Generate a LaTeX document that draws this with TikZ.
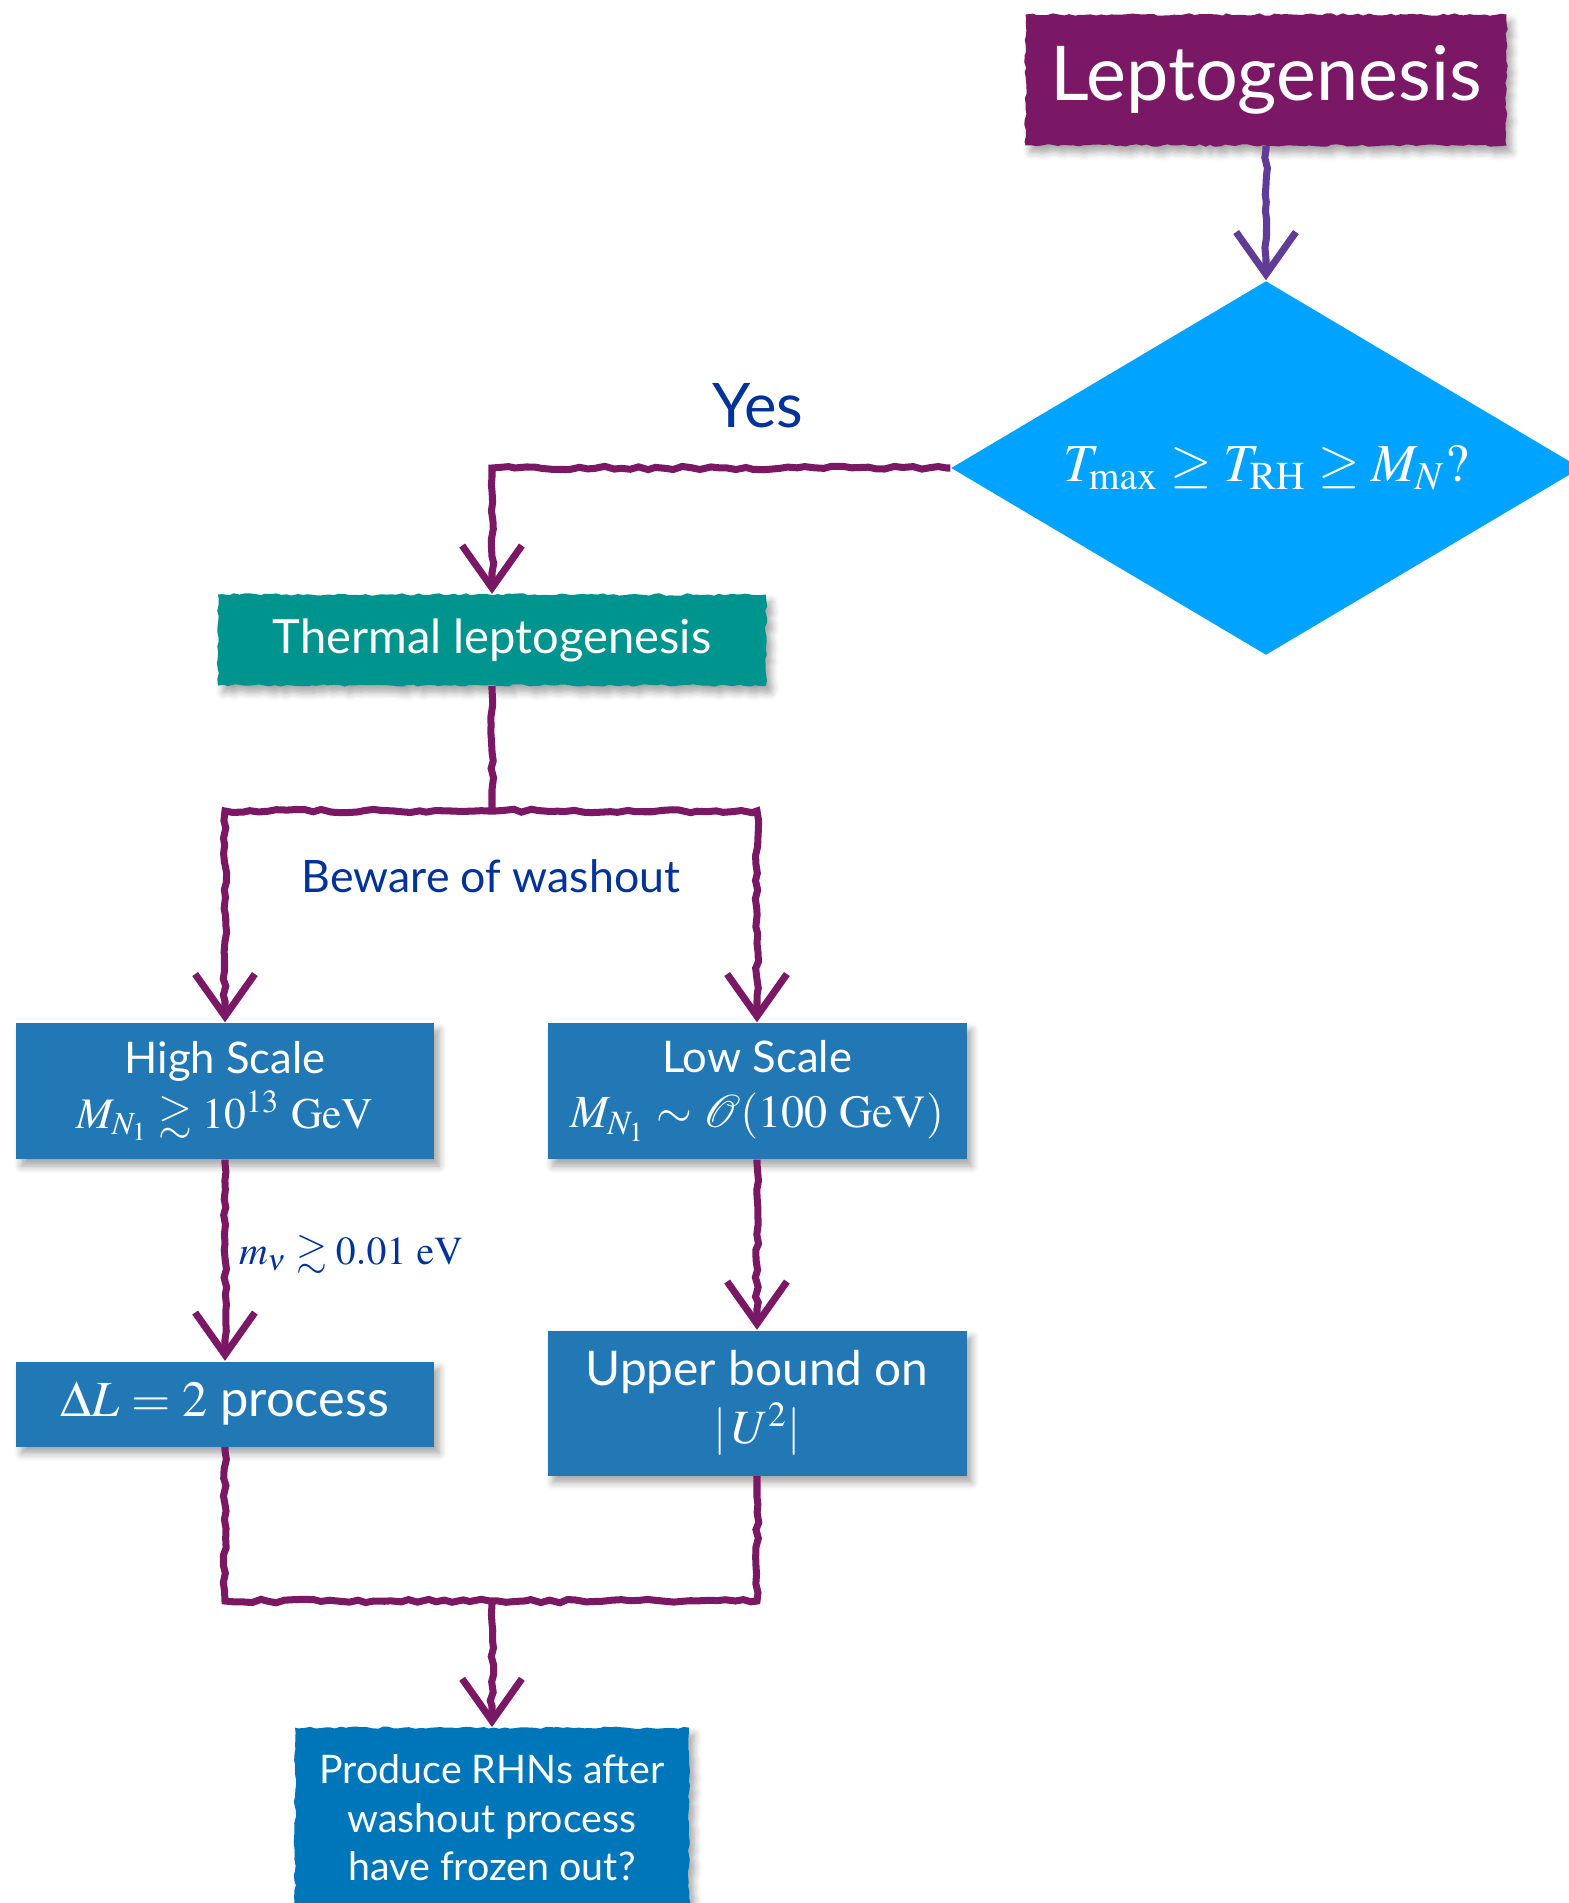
\documentclass[tikz,border=0pt]{standalone}
\usepackage{mathptmx}
\usepackage{amsmath,amssymb}
\usepackage[no-math]{fontspec}
\setmainfont{Lato}
\usetikzlibrary{positioning,arrows.meta,decorations.pathmorphing,shapes.geometric,shadows.blur}

\definecolor{leptopurple}{RGB}{122,24,102}
\definecolor{arrowviolet}{RGB}{96,60,150}
\definecolor{diablue}{RGB}{0,163,255}
\definecolor{thermteal}{RGB}{0,148,143}
\definecolor{boxblue}{RGB}{33,120,180}
\definecolor{prodblue}{RGB}{0,118,186}
\definecolor{labelblue}{RGB}{0,51,153}

\newcommand{\fsz}[1]{\fontsize{#1}{1.15\dimexpr#1pt\relax}\selectfont}

\tikzset{
  chalk/.style={line width=2pt, draw=leptopurple, decorate,
    decoration={random steps,segment length=2.5pt,amplitude=0.5pt,pre length=1pt,post length=6pt}},
  arr/.style={chalk, -{Straight Barb[length=12pt,width=17pt]}},
  box/.style={rectangle, fill=boxblue, text=white, inner sep=0pt, align=center,
    blur shadow={shadow xshift=1.5pt,shadow yshift=-2pt,shadow blur steps=6,shadow opacity=35}},
  roughbox/.style={box, decorate, decoration={random steps,segment length=1.5pt,amplitude=0.35pt}},
  lbl/.style={text=labelblue, inner sep=0pt},
}

\begin{document}
\begin{tikzpicture}[x=0.1mm,y=-0.1mm]
\pgfmathsetseed{7}
\useasboundingbox (0,0) rectangle (1569,1903);
\clip (0,0) rectangle (1569,1903);

% boxes
\node (lepto) [roughbox, fill=leptopurple, minimum width=48.1mm, minimum height=13.1mm, font=\fsz{21.5}] at (1266,80) {Leptogenesis};
\node (dia) [diamond, shape aspect=1.684, fill=diablue, text=white, inner sep=0pt, minimum width=63mm, minimum height=37.4mm, font=\fsz{15.2}] at (1266,468) {$T_{\max}\geq T_{\mathrm{RH}}\geq M_N?$};
\node (therm) [roughbox, fill=thermteal, minimum width=54.8mm, minimum height=9.1mm, font=\fsz{13.4}] at (492,640) {Thermal leptogenesis};
\node (high) [box, minimum width=41.8mm, minimum height=13.6mm, font=\fontsize{12.4}{15.6}\selectfont] at (225,1091) {High Scale\\ {\fsz{12.4}$M_{N_1}\gtrsim 10^{13}~\mathrm{GeV}$}};
\node (low) [box, minimum width=41.9mm, minimum height=13.6mm, font=\fontsize{12.4}{15.6}\selectfont] at (757,1091) {Low Scale\\ {\fsz{13.1}$M_{N_1}\sim\mathcal{O}(100~\mathrm{GeV})$}};
\node (dl) [box, minimum width=41.8mm, minimum height=8.5mm, font=\fsz{14.4}] at (225,1404) {$\Delta L=2$ process};
\node (ub) [box, minimum width=41.9mm, minimum height=14.5mm, font=\fontsize{13.6}{16.5}\selectfont] at (757,1403) {Upper bound on\\ $|\,U^2|$};
\node (prod) [roughbox, fill=prodblue, anchor=north, minimum width=39.4mm, minimum height=18mm, font=\fontsize{11.2}{13.7}\selectfont] at (492,1727) {Produce RHNs after\\washout process\\have frozen out?};

% connectors
\coordinate (jt) at (492,811);
\coordinate (jb) at (492,1601);
\draw[arr, draw=arrowviolet] (lepto.south) -- (dia.north);
\draw[arr] (dia.west) -| node[lbl, pos=0.21, above=10.5pt, font=\fsz{17.5}] {Yes} (therm.north);
\draw[chalk] (therm.south) -- (jt);
\draw[arr] (jt) -| (high.north);
\draw[arr] (jt) -| (low.north);
\node (beware) [lbl, font=\fsz{12.7}] at (491,876) {Beware of washout};
\draw[arr] (high.south) -- node[lbl, right=3pt, pos=0.47, font=\fsz{11.3}] {$m_\nu\gtrsim 0.01~\mathrm{eV}$} (dl.north);
\draw[arr] (low.south) -- (ub.north);
\draw[chalk] (dl.south) |- (ub.south |- jb) -- (ub.south);
\draw[arr] (jb) -- (prod.north);
\end{tikzpicture}
\end{document}
